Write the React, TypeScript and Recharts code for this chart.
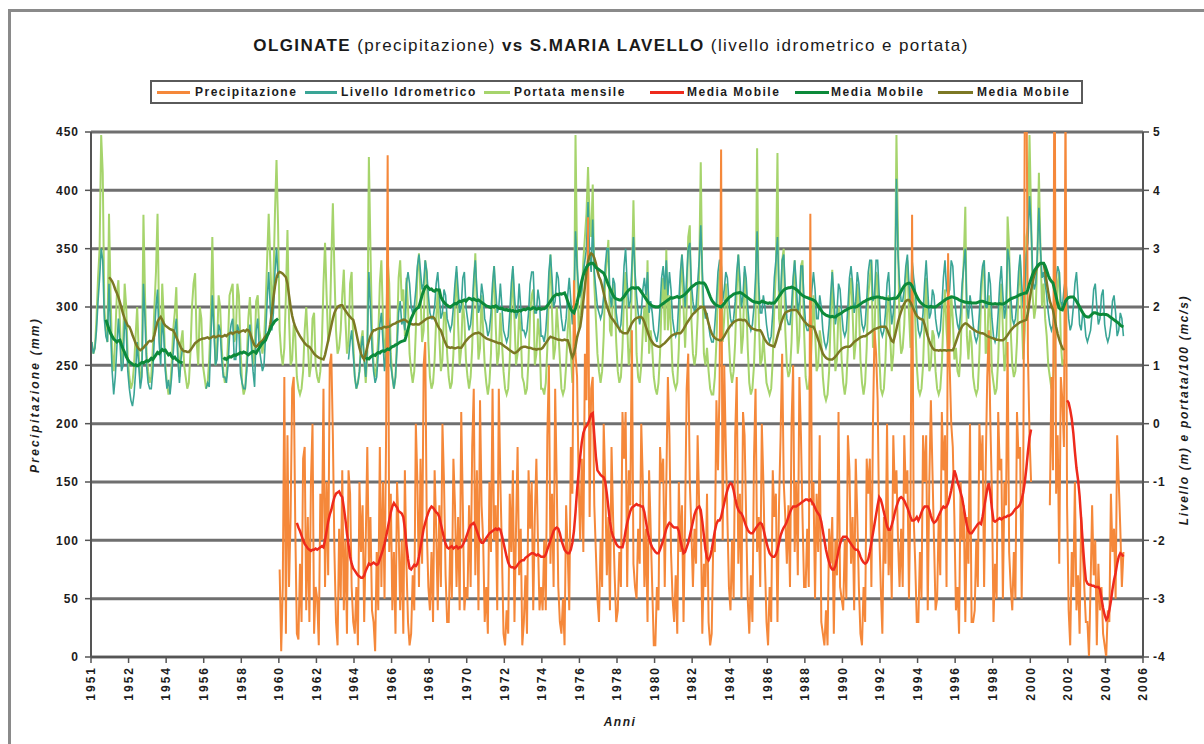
import React from 'react';
import { ComposedChart, Line, XAxis, YAxis, CartesianGrid } from 'recharts';

const FONT = '"Liberation Sans", Arial, Helvetica, sans-serif';

// ---- categories / ticks ----
const MONTHS = 672;
const xTickLabels = ['1951','1952','1954','1956','1958','1960','1962','1964','1966','1968','1970','1972','1974','1976','1978','1980','1982','1984','1986','1988','1990','1992','1994','1996','1998','2000','2002','2004','2006'];
const leftTicks = [0, 50, 100, 150, 200, 250, 300, 350, 400, 450];
const rightTicks = [-4, -3, -2, -1, 0, 1, 2, 3, 4, 5];

// ---- Precipitazione (mm), monthly ----
const precipStart1 = 120;
const precipitazione1 = [
  75,5,60,240,20,190,60,120,230,240,110,20,
  15,80,30,170,180,40,120,30,150,200,20,60,
  50,10,140,100,230,60,150,70,250,260,190,90,
  30,10,110,50,160,40,100,20,160,140,60,30,
  20,60,10,150,90,130,30,100,180,80,120,40,
  30,5,90,40,180,60,150,50,190,430,90,140,
  40,90,20,150,110,40,100,20,160,80,30,10,
  20,70,40,200,150,60,170,80,250,270,110,60,
  40,90,30,160,110,40,130,60,200,150,70,30,
  30,100,50,170,130,60,120,40,210,130,40,60,
  50,130,60,180,230,70,160,40,220,130,100,30,
  60,20,150,90,230,100,130,40,230,150,90,20,
  10,40,20,140,90,160,30,110,180,70,110,10,
  30,70,20,160,110,150,40,120,170,100,40,60,
  40,100,40,190,250,80,140,60,230,150,60,30,
  20,50,10,130,90,40,180,140,323,260,240,150,
  100,170,90,260,220,377,120,230,240,130,90,50,
  30,100,60,200,150,70,120,40,180,120,70,30,
  40,90,60,210,170,210,60,160,130,280,80,60,
  50,110,80,200,150,60,110,30,160,110,60,10,
  10,60,40,180,150,170,60,150,240,190,90,50,
  30,70,20,150,90,130,30,120,230,260,150,110,
  60,110,80,190,130,120,20,80,60,140,30,10,
  20,100,90,220,160,230,435,100,250,180,120,60,
  40,100,50,190,240,80,140,50,210,190,120,50,
  20,70,30,170,230,90,120,60,200,150,80,30,
  10,60,30,160,120,140,30,130,190,260,150,120,
  80,130,60,200,250,90,150,70,240,190,120,60,
  60,110,60,380,130,150,50,140,90,190,30,20,
  10,40,10,110,80,120,20,100,70,210,60,50,
  40,100,50,190,160,80,120,40,170,120,60,20,
  10,60,30,170,140,170,60,200,280,260,220,110,
  60,20,120,80,200,70,110,50,190,140,160,100,
  60,110,60,190,140,160,50,140,379,120,80,30,
  30,90,50,190,150,190,40,150,220,160,100,40,
  50,120,70,210,160,190,60,346,250,200,180,120,
  40,60,20,150,100,130,30,120,80,200,30,30,
  40,100,60,200,160,190,60,160,240,280,200,140,
  30,80,50,210,160,170,50,150,130,270,90,60,
  40,90,50,210,170,180,50,150,470,520,260,190,
  150,
];
const precipStart2 = 612;
const precipitazione2 = [
  130,240,160,560,140,190,80,240,220,180,480,130,
  40,10,90,60,150,40,70,20,120,90,60,30,
  30,0,60,130,70,100,10,80,40,60,20,10,
  0,40,30,140,90,110,50,190,150,110,60,90,
];

// ---- Livello idrometrico (m) ----
const livelloStart1 = 0;
const livello1 = [
  1.4,1.2,1.3,1.6,2.1,2.5,3.0,2.8,1.8,1.5,1.4,2.4,
  1.6,0.9,0.5,0.8,1.3,1.8,1.4,0.9,1.0,1.8,1.6,0.9,
  0.6,0.4,0.3,0.5,0.9,1.4,1.0,0.6,0.8,2.4,1.8,1.0,
  0.7,0.6,0.6,0.9,1.5,2.0,2.3,1.4,1.0,1.8,1.5,0.9,
  0.6,0.75,0.5,0.8,1.2,1.6,1.8,1.1,0.7,1.1,1.3,
];
const livelloStart2 = 73;
const livello2 = [
  0.6,0.7,0.63,1.4,2.2,1.6,1.0,1.1,1.7,1.6,1.1,
  0.8,0.8,0.7,1.0,1.5,1.7,1.8,1.1,1.1,1.7,1.6,0.86,
  0.7,0.6,0.6,0.9,1.4,1.7,1.3,0.9,0.63,1.6,1.8,1.3,
  1.1,0.9,1.0,1.5,2.1,2.6,2.0,1.6,1.9,2.6,3.0,2.5,
];
const livelloStart3 = 164;
const livello3 = [
  1.1,1.4,1.6,1.2,
  0.8,0.6,0.7,0.9,1.3,1.5,1.1,0.8,1.3,2.6,2.0,1.3,
  0.9,0.7,0.8,1.2,1.7,1.9,1.4,0.9,1.2,1.9,1.7,1.0,
  0.8,0.6,0.8,1.3,1.9,2.1,1.7,1.8,1.6,2.4,2.6,2.4,
  2.0,1.9,2.0,2.3,2.7,2.9,2.6,2.3,2.4,2.8,2.6,2.2,
  1.9,1.8,1.8,2.0,2.4,2.6,2.2,1.8,1.9,2.3,2.2,1.8,
  1.7,1.6,1.7,2.0,2.4,2.7,2.3,1.9,2.0,2.5,2.6,2.0,
  1.8,1.6,1.7,2.0,2.5,2.8,2.3,1.9,2.0,2.4,2.2,1.8,
  1.7,1.5,1.6,1.9,2.4,2.7,2.3,1.9,2.0,2.4,2.0,1.6,
  1.5,1.4,1.5,1.9,2.4,2.7,2.2,1.8,1.9,2.4,2.0,1.6,
  1.6,1.5,1.6,1.9,2.4,2.6,2.6,1.9,1.9,2.3,2.1,1.5,
  1.5,1.4,1.6,2.0,2.6,2.9,2.5,2.0,2.1,2.6,2.5,2.1,
  1.8,1.6,1.6,1.8,2.2,2.5,2.1,1.7,2.0,3.3,2.7,2.3,
  2.2,2.3,2.6,2.8,3.0,3.8,2.9,2.6,3.5,2.6,2.3,2.0,
  1.9,1.8,1.9,2.2,2.7,3.0,3.0,2.2,2.0,2.5,2.4,1.9,
  1.7,1.6,1.7,2.1,2.7,3.0,2.4,2.0,2.1,2.7,3.2,2.6,
  2.2,1.9,1.7,1.9,2.3,2.5,2.2,2.6,1.9,2.1,1.9,1.6,
  1.5,1.4,1.6,2.0,2.5,2.7,2.3,2.8,2.2,2.6,2.3,1.8,
  1.6,1.5,1.6,2.1,2.6,2.9,2.5,2.0,2.5,3.0,3.1,2.4,
  2.1,1.9,2.0,2.4,2.8,3.4,2.6,2.0,1.8,1.9,1.7,1.5,
  1.4,1.4,1.7,2.1,2.6,2.8,2.8,2.1,2.3,2.6,2.5,2.1,
  1.8,1.7,1.8,2.1,2.6,2.9,2.5,2.0,2.2,2.7,2.5,2.0,
  1.7,1.6,1.7,2.0,2.5,3.3,2.4,1.9,1.9,2.2,2.0,1.7,
  1.5,1.4,1.5,1.9,2.5,2.8,3.2,2.3,2.2,2.8,2.9,2.3,
  1.8,1.7,1.7,2.0,2.5,2.8,2.4,1.9,2.1,2.7,2.7,2.1,
  1.7,1.6,1.6,1.9,2.3,2.6,2.3,1.8,1.8,2.2,2.0,1.6,
  1.4,1.3,1.4,1.7,2.2,2.6,2.2,1.7,1.9,2.4,2.3,1.9,
  1.6,1.5,1.6,2.0,2.5,2.7,2.4,1.9,2.1,2.6,2.4,2.0,
  1.7,1.6,1.7,2.1,2.6,2.8,2.8,2.1,2.2,2.8,2.8,2.2,
  1.6,1.5,1.6,1.9,2.4,2.6,2.1,1.7,1.9,2.3,4.2,2.9,
  2.4,2.1,2.1,2.3,2.7,2.9,2.4,2.0,2.8,2.5,2.3,1.9,
  1.6,1.5,1.6,1.9,2.4,2.8,2.3,1.8,1.9,2.3,2.2,1.8,
  1.6,1.5,1.6,2.0,2.5,2.8,2.3,2.2,2.3,2.8,2.7,2.2,
  1.9,1.7,1.6,1.9,2.4,2.7,3.0,2.0,1.8,2.2,2.0,1.7,
  1.5,1.4,1.5,1.9,2.4,2.7,2.8,2.0,2.0,2.6,2.4,1.8,
  1.5,1.4,1.5,1.9,2.4,2.7,2.2,1.8,2.0,3.0,2.8,2.2,
  1.8,1.7,1.8,2.1,2.6,2.9,2.4,2.0,2.3,2.9,3.1,3.9,
  3.4,2.6,2.3,2.4,2.9,3.7,3.0,2.5,2.6,2.4,2.2,1.9,
  1.7,1.6,1.7,2.0,2.5,2.7,2.6,2.1,2.0,2.3,2.5,2.2,
  1.8,1.6,1.7,2.0,2.4,2.6,2.2,1.7,1.6,1.9,1.8,1.5,
  1.4,1.5,1.6,1.9,2.3,2.4,2.0,1.7,1.8,2.2,2.3,1.7,
  1.5,1.4,1.5,1.7,2.1,2.2,1.9,1.5,1.6,1.9,1.8,1.5,
];

// ---- Portata mensile (m3/s / 100) ----
const portataStart = 0;
const portata = [
  1.4,1.2,1.3,1.8,2.5,3.0,4.95,4.3,2.0,1.6,1.4,3.6,
  2.2,1.2,0.9,1.5,2.2,2.46,1.7,1.0,1.4,2.4,2.0,1.1,
  0.8,0.6,0.7,1.0,1.5,2.0,1.2,0.7,0.9,3.58,2.2,1.2,
  0.9,0.7,0.8,1.3,2.0,2.6,3.6,1.8,1.2,2.4,1.8,1.0,
  0.7,0.5,0.6,1.0,1.6,1.9,2.34,1.2,0.8,1.4,1.6,1.0,
  0.8,0.6,0.7,1.2,2.0,2.4,2.58,1.4,1.0,2.0,1.8,1.0,
  0.8,0.6,0.7,1.1,1.8,3.2,1.9,1.0,1.3,2.2,2.0,1.3,
  0.9,0.7,0.8,1.4,2.2,2.3,2.4,1.4,1.5,2.4,2.2,1.3,
  0.7,0.5,0.6,1.1,1.8,2.17,1.6,1.0,1.2,2.1,2.2,1.6,
  1.4,1.2,1.4,2.0,2.8,3.6,2.8,2.0,2.4,3.6,4.52,3.4,
  1.6,1.2,1.0,1.3,2.2,3.32,1.8,1.0,1.1,1.7,1.5,0.8,
  0.6,0.5,0.6,0.9,1.6,2.0,1.4,0.8,1.0,1.8,1.9,1.0,
  0.8,0.7,0.9,1.4,2.4,3.1,2.2,1.4,1.6,2.8,3.78,2.6,
  1.6,1.2,1.3,1.6,2.2,2.64,1.8,1.2,1.4,2.4,2.6,1.4,
  0.8,0.6,0.7,0.9,1.4,1.6,1.1,0.7,1.2,4.57,3.0,1.6,
  1.0,0.8,1.0,1.5,2.4,2.8,1.8,1.1,1.5,2.8,2.4,1.2,
  0.8,0.6,0.8,1.5,2.5,2.8,2.1,2.3,1.5,2.5,2.0,1.2,
  0.9,0.7,0.9,1.6,2.6,2.92,2.2,1.4,1.6,2.8,2.6,1.4,
  0.8,0.6,0.7,1.1,1.8,2.3,1.5,0.9,1.1,1.9,1.9,1.2,
  0.8,0.6,0.7,1.2,2.1,2.6,1.7,1.0,1.3,2.1,1.8,1.1,
  0.8,0.6,0.8,1.3,2.3,2.92,1.9,1.1,1.3,2.2,1.6,1.0,
  0.7,0.5,0.7,1.2,2.2,2.7,1.7,1.0,1.2,1.9,1.4,0.9,
  0.6,0.5,0.6,1.1,2.0,2.65,1.8,1.0,1.2,1.9,1.6,0.8,
  0.7,0.5,0.6,1.1,1.9,2.2,2.3,1.0,1.2,1.8,1.5,0.6,
  0.6,0.5,0.7,1.3,2.3,2.9,1.9,1.1,1.3,2.0,1.6,1.1,
  0.6,0.5,0.6,1.0,1.6,2.0,1.2,0.7,1.4,4.95,2.8,1.6,
  1.8,2.2,2.8,3.2,3.6,4.4,3.5,3.2,4.1,2.4,1.8,1.2,
  0.9,0.7,0.9,1.5,2.5,2.8,3.15,1.6,1.5,2.4,2.2,1.4,
  0.9,0.7,0.8,1.3,2.2,2.6,1.7,1.0,1.3,2.4,3.83,2.5,
  1.2,0.8,0.7,1.0,1.6,2.0,1.4,2.8,1.2,1.6,1.3,0.8,
  0.6,0.5,0.7,1.2,2.1,2.5,1.6,2.98,1.6,2.2,1.6,0.9,
  0.7,0.6,0.7,1.3,2.3,2.9,2.0,1.3,2.0,3.2,3.4,1.8,
  1.2,1.0,1.2,1.8,2.6,4.48,2.4,1.2,1.0,1.3,0.9,0.6,
  0.5,0.5,0.8,1.4,2.3,2.6,2.7,1.4,1.8,2.4,2.0,1.4,
  0.9,0.7,0.9,1.4,2.3,2.9,2.1,1.2,1.5,2.6,2.2,1.3,
  0.7,0.5,0.6,1.0,1.8,4.72,1.9,1.0,1.1,1.5,1.1,0.7,
  0.6,0.5,0.6,1.1,2.0,2.6,4.64,1.8,1.6,2.8,3.0,1.6,
  1.0,0.8,0.9,1.4,2.3,2.8,2.0,1.2,1.5,2.7,2.8,1.6,
  0.8,0.6,0.6,0.9,1.5,2.2,1.6,0.9,1.0,1.6,1.4,0.8,
  0.5,0.4,0.5,0.9,1.8,2.64,1.7,0.9,1.1,2.0,1.8,1.1,
  0.7,0.5,0.7,1.3,2.2,2.5,1.9,1.1,1.4,2.4,2.0,1.1,
  0.7,0.5,0.7,1.3,2.2,2.5,2.8,1.3,1.5,2.6,2.5,1.2,
  0.6,0.5,0.6,1.1,1.9,2.2,1.5,0.9,1.2,2.0,4.95,3.2,
  1.6,1.2,1.3,1.7,2.5,2.8,1.9,1.3,2.7,2.2,1.8,1.0,
  0.6,0.5,0.6,1.0,1.8,2.5,1.6,0.9,1.0,1.6,1.5,0.9,
  0.6,0.5,0.6,1.0,1.8,2.3,1.6,1.2,1.4,2.2,1.8,1.1,
  1.3,0.9,0.8,1.2,2.2,2.8,3.72,1.5,1.1,1.6,1.4,0.8,
  0.6,0.5,0.6,1.2,2.1,2.6,2.8,1.2,1.3,2.2,1.8,0.9,
  0.7,0.5,0.6,1.1,1.9,2.4,1.6,0.9,1.2,3.55,3.0,1.6,
  1.0,0.8,0.9,1.4,2.3,2.8,1.9,1.1,1.6,3.2,3.4,4.95,
  3.6,2.2,1.8,2.0,2.8,4.3,3.0,2.0,2.4,1.8,1.5,1.0,
  0.8,0.6,0.7,1.2,1.9,2.4,2.6,1.4,1.0,1.1,
];

// ---- Media Mobile precipitazione (mm) ----
const mediaPrecipStart1 = 131;
const mediaPrecip1 = [
  115,
  111,108,104,100,97,95,93,92,91,92,92,93,
  92,93,94,95,94,100,108,116,122,126,132,137,
  140,141,142,139,137,128,118,106,96,86,80,76,
  74,72,70,69,68,68,70,74,77,80,79,80,
  81,80,79,80,84,88,92,97,103,110,117,124,
  129,132,130,128,125,124,123,120,110,96,84,76,
  75,77,79,78,80,86,94,102,110,115,120,124,
  127,129,128,126,124,123,120,114,108,102,97,94,
  93,94,95,93,94,95,93,94,94,96,99,102,
  106,110,113,114,115,112,108,104,100,98,98,100,
  102,104,106,107,108,109,110,109,110,109,104,98,
  92,86,81,78,77,77,76,77,79,81,82,83,
  83,85,86,87,88,89,89,88,87,88,87,86,
  86,86,88,92,96,100,104,108,110,111,110,106,
  100,96,92,90,89,89,92,98,108,124,143,158,
  172,184,192,196,198,200,204,208,209,190,172,160,
  158,156,155,154,150,140,128,116,108,103,100,97,
  95,94,94,94,100,108,115,120,125,128,129,130,
  131,130,130,129,129,124,116,108,102,97,94,92,
  90,89,89,92,96,100,105,110,113,115,114,112,
  111,111,111,108,100,94,89,90,94,98,104,110,
  116,122,126,128,129,126,116,104,92,85,83,86,
  92,100,108,114,117,117,120,126,132,138,143,147,
  149,148,143,136,130,126,124,123,120,116,112,109,
  107,106,106,108,110,112,114,115,114,110,104,98,
  93,89,87,86,86,88,92,98,104,108,111,113,
  116,120,124,127,129,129,129,130,131,132,133,134,
  135,135,134,135,133,131,128,125,123,121,116,108,
  100,92,86,81,77,75,75,78,84,91,97,101,
  103,103,103,101,99,97,95,93,92,92,90,86,
  83,81,80,81,84,90,98,106,114,122,130,137,
  135,130,124,118,112,109,109,113,118,124,129,133,
  136,137,136,134,131,128,124,120,117,117,118,120,
  117,120,124,127,129,129,129,126,121,117,115,116,
  118,121,124,127,129,128,129,132,137,143,150,160,
  156,150,146,141,136,128,120,113,108,106,106,108,
  110,112,114,115,114,120,128,136,144,149,140,127,
  117,116,117,118,119,118,119,120,120,121,121,122,
  123,125,127,128,129,131,135,141,150,162,176,188,
  195,
];
const mediaPrecipStart2 = 623;
const mediaPrecip2 = [
  220,218,212,204,192,176,162,152,138,118,98,80,66,
  63,62,62,61,61,60,60,60,58,50,42,36,
  32,34,40,48,58,66,72,80,86,89,88,86,
];

// ---- Media Mobile livello (m) ----
const mediaLivelloStart1 = 9;
const mediaLivello1 = [
  1.78,1.70,1.62,
  1.55,1.50,1.45,1.43,1.40,1.42,1.43,1.35,1.28,1.22,1.15,1.10,
  1.06,1.04,1.02,1.00,1.01,0.99,1.00,1.03,1.05,1.04,1.06,1.08,
  1.07,1.09,1.12,1.10,1.14,1.18,1.22,1.20,1.24,1.27,1.25,1.26,
  1.22,1.18,1.20,1.15,1.12,1.14,1.10,1.08,1.06,1.05,1.04,
];
const mediaLivelloStart2 = 84;
const mediaLivello2 = [
  1.10,1.12,1.10,1.13,1.15,1.14,1.16,1.18,1.17,1.19,1.20,1.22,
  1.21,1.23,1.22,1.20,1.18,1.20,1.22,1.24,1.23,1.21,1.26,1.30,
  1.34,1.38,1.40,1.43,1.50,1.56,1.62,1.68,1.72,1.76,1.78,1.80,
];
const mediaLivelloStart3 = 175;
const mediaLivello3 = [
  1.10,1.12,1.11,1.14,1.16,
  1.18,1.17,1.20,1.22,1.21,1.24,1.25,1.24,1.26,1.28,1.27,1.30,
  1.32,1.33,1.35,1.36,1.38,1.40,1.41,1.42,1.43,1.52,1.62,1.72,
  1.80,1.86,1.92,1.96,1.98,2.00,2.10,2.20,2.28,2.34,2.36,2.33,
  2.30,2.31,2.28,2.27,2.30,2.29,2.29,2.17,2.12,2.08,2.05,2.03,
  2.01,2.00,2.02,2.04,2.06,2.05,2.08,2.10,2.09,2.11,2.12,2.10,
  2.13,2.15,2.14,2.12,2.14,2.12,2.11,2.12,2.10,2.08,2.06,2.04,
  2.02,2.01,2.00,1.99,2.01,2.00,2.02,2.00,1.98,1.97,1.98,1.96,
  1.95,1.96,1.94,1.95,1.93,1.94,1.92,1.93,1.92,1.94,1.93,1.95,
  1.96,1.95,1.97,1.98,1.96,1.97,1.99,1.98,1.96,1.97,1.98,1.96,
  1.97,1.97,1.99,2.02,2.06,2.10,2.14,2.18,2.20,2.22,2.21,2.23,
  2.22,2.23,2.24,2.18,2.10,2.02,1.96,1.92,1.90,1.98,2.08,2.20,
  2.32,2.45,2.55,2.62,2.68,2.72,2.74,2.75,2.75,2.72,2.68,2.66,
  2.64,2.62,2.60,2.58,2.52,2.45,2.38,2.32,2.26,2.20,2.16,2.14,
  2.13,2.12,2.12,2.15,2.18,2.22,2.26,2.29,2.31,2.33,2.33,2.32,
  2.33,2.33,2.30,2.26,2.22,2.18,2.14,2.10,2.06,2.04,2.02,2.01,
  2.00,2.00,2.00,2.02,2.04,2.06,2.08,2.10,2.12,2.14,2.16,2.15,
  2.16,2.17,2.18,2.16,2.17,2.18,2.20,2.22,2.25,2.28,2.31,2.34,
  2.36,2.38,2.40,2.41,2.42,2.41,2.41,2.41,2.38,2.32,2.25,2.18,
  2.12,2.08,2.05,2.03,2.02,2.01,2.00,2.03,2.06,2.10,2.13,2.16,
  2.18,2.20,2.22,2.23,2.24,2.24,2.25,2.24,2.22,2.20,2.18,2.16,
  2.14,2.12,2.10,2.09,2.08,2.08,2.07,2.08,2.10,2.09,2.08,2.07,
  2.06,2.07,2.06,2.07,2.07,2.10,2.14,2.18,2.22,2.26,2.29,2.31,
  2.32,2.33,2.33,2.34,2.33,2.32,2.30,2.28,2.25,2.22,2.20,2.18,
  2.17,2.16,2.15,2.14,2.13,2.12,2.10,2.06,2.02,1.98,1.94,1.90,
  1.88,1.86,1.85,1.84,1.83,1.84,1.83,1.83,1.85,1.87,1.88,1.90,
  1.92,1.94,1.95,1.97,1.98,1.99,2.00,2.00,2.00,2.01,2.03,2.05,
  2.07,2.09,2.10,2.12,2.13,2.14,2.15,2.16,2.16,2.17,2.17,2.17,
  2.16,2.16,2.15,2.14,2.14,2.13,2.14,2.14,2.15,2.15,2.15,2.18,
  2.22,2.27,2.32,2.36,2.39,2.40,2.41,2.40,2.36,2.30,2.24,2.18,
  2.13,2.09,2.06,2.04,2.02,2.01,2.00,2.00,2.01,2.00,2.00,2.00,
  2.02,2.04,2.06,2.08,2.10,2.12,2.14,2.15,2.16,2.17,2.17,2.16,
  2.15,2.14,2.12,2.11,2.10,2.09,2.08,2.08,2.07,2.08,2.07,2.07,
  2.07,2.07,2.08,2.09,2.10,2.10,2.09,2.08,2.07,2.06,2.06,2.05,
  2.05,2.06,2.05,2.05,2.06,2.05,2.05,2.06,2.08,2.10,2.12,2.14,
  2.15,2.16,2.17,2.18,2.20,2.21,2.22,2.23,2.24,2.24,2.30,2.40,
  2.48,2.56,2.62,2.66,2.70,2.73,2.75,2.75,2.75,2.70,2.62,2.54,
  2.48,2.44,2.41,2.30,2.18,2.06,1.98,1.96,1.95,2.02,2.10,2.14,
  2.16,2.17,2.17,2.17,2.14,2.10,2.05,2.00,1.95,1.90,1.86,1.84,
  1.83,1.83,1.85,1.88,1.90,1.90,1.89,1.88,1.87,1.87,1.88,1.87,
  1.87,1.86,1.84,1.82,1.80,1.78,1.76,1.74,1.72,1.69,1.67,1.66,
];

// ---- Media Mobile portata (m3/s / 100) ----
const mediaPortataStart = 11;
const mediaPortata = [
  2.51,
  2.48,2.44,2.38,2.30,2.24,2.17,2.08,1.98,1.88,1.80,1.74,1.68,
  1.66,1.60,1.52,1.45,1.38,1.32,1.28,1.26,1.28,1.30,1.34,1.36,
  1.40,1.42,1.41,1.43,1.52,1.64,1.75,1.80,1.83,1.78,1.72,1.68,
  1.66,1.64,1.62,1.61,1.60,1.55,1.48,1.42,1.36,1.30,1.26,1.24,
  1.24,1.23,1.23,1.26,1.30,1.34,1.38,1.40,1.42,1.44,1.45,1.46,
  1.46,1.47,1.48,1.46,1.47,1.49,1.50,1.48,1.49,1.51,1.50,1.49,
  1.50,1.52,1.50,1.53,1.55,1.56,1.54,1.56,1.57,1.58,1.56,1.58,
  1.59,1.60,1.58,1.61,1.60,1.56,1.48,1.40,1.34,1.32,1.34,1.38,
  1.40,1.42,1.46,1.50,1.53,1.55,1.70,1.90,2.15,2.35,2.50,2.58,
  2.60,2.59,2.57,2.54,2.51,2.40,2.20,2.00,1.85,1.74,1.66,1.60,
  1.55,1.50,1.46,1.42,1.38,1.35,1.33,1.32,1.28,1.24,1.20,1.17,
  1.15,1.13,1.12,1.11,1.10,1.18,1.30,1.42,1.55,1.68,1.80,1.90,
  1.96,2.00,2.02,2.03,2.03,1.98,1.94,1.90,1.86,1.83,1.80,1.78,
  1.68,1.55,1.42,1.30,1.20,1.14,1.10,1.20,1.32,1.42,1.50,1.56,
  1.60,1.60,1.62,1.63,1.64,1.63,1.65,1.66,1.65,1.66,1.66,1.68,
  1.70,1.71,1.72,1.74,1.75,1.76,1.77,1.78,1.78,1.76,1.74,1.72,
  1.71,1.70,1.70,1.71,1.70,1.70,1.72,1.74,1.76,1.78,1.80,1.81,
  1.82,1.83,1.83,1.80,1.74,1.68,1.63,1.60,1.52,1.44,1.38,1.32,
  1.31,1.30,1.31,1.30,1.29,1.30,1.31,1.30,1.30,1.34,1.38,1.42,
  1.45,1.48,1.50,1.52,1.54,1.55,1.55,1.56,1.55,1.53,1.50,1.48,
  1.46,1.45,1.44,1.43,1.42,1.41,1.40,1.39,1.38,1.38,1.36,1.34,
  1.32,1.30,1.28,1.26,1.24,1.22,1.21,1.22,1.24,1.27,1.30,1.31,
  1.32,1.32,1.31,1.30,1.30,1.29,1.28,1.28,1.27,1.28,1.28,1.28,
  1.30,1.34,1.38,1.42,1.46,1.49,1.48,1.47,1.46,1.45,1.44,1.44,
  1.43,1.43,1.44,1.43,1.43,1.35,1.22,1.14,1.20,1.32,1.48,1.58,
  1.66,1.85,2.10,2.35,2.60,2.78,2.88,2.92,2.90,2.84,2.75,2.62,
  2.52,2.46,2.36,2.24,2.12,2.02,1.94,1.86,1.81,1.78,1.74,1.70,
  1.66,1.62,1.58,1.56,1.55,1.55,1.55,1.60,1.66,1.72,1.76,1.79,
  1.81,1.82,1.83,1.83,1.80,1.74,1.66,1.58,1.50,1.44,1.40,1.36,
  1.34,1.33,1.32,1.32,1.34,1.36,1.38,1.41,1.44,1.47,1.50,1.52,
  1.53,1.54,1.55,1.55,1.55,1.58,1.62,1.67,1.72,1.76,1.80,1.84,
  1.88,1.90,1.93,1.96,1.98,2.00,2.00,2.00,1.92,1.82,1.72,1.62,
  1.55,1.50,1.47,1.45,1.44,1.43,1.43,1.46,1.50,1.55,1.60,1.64,
  1.68,1.71,1.74,1.76,1.77,1.78,1.78,1.78,1.77,1.78,1.76,1.72,
  1.68,1.65,1.63,1.62,1.61,1.60,1.60,1.60,1.56,1.50,1.44,1.40,
  1.37,1.35,1.34,1.33,1.32,1.40,1.50,1.60,1.70,1.78,1.85,1.90,
  1.92,1.93,1.94,1.95,1.95,1.95,1.95,1.92,1.88,1.84,1.80,1.76,
  1.73,1.70,1.68,1.67,1.66,1.66,1.60,1.52,1.44,1.36,1.28,1.20,
  1.16,1.13,1.11,1.10,1.10,1.10,1.12,1.15,1.18,1.22,1.25,1.28,
  1.30,1.31,1.32,1.32,1.32,1.34,1.37,1.40,1.42,1.44,1.46,1.48,
  1.49,1.50,1.50,1.52,1.54,1.56,1.58,1.60,1.62,1.63,1.64,1.65,
  1.66,1.66,1.66,1.66,1.62,1.55,1.48,1.42,1.40,1.50,1.62,1.74,
  1.84,1.92,2.00,2.06,2.10,2.12,2.12,2.08,2.02,1.96,1.90,1.85,
  1.82,1.80,1.79,1.78,1.70,1.60,1.50,1.42,1.35,1.30,1.27,1.26,
  1.26,1.25,1.26,1.25,1.26,1.26,1.25,1.26,1.26,1.26,1.26,1.32,
  1.40,1.48,1.56,1.62,1.67,1.70,1.72,1.71,1.69,1.66,1.64,1.62,
  1.60,1.58,1.57,1.56,1.55,1.55,1.54,1.52,1.50,1.49,1.48,1.47,
  1.46,1.45,1.44,1.44,1.43,1.43,1.43,1.45,1.48,1.52,1.56,1.60,
  1.63,1.66,1.68,1.70,1.72,1.74,1.75,1.76,1.77,1.78,1.90,2.10,
  2.28,2.42,2.54,2.62,2.68,2.72,2.74,2.75,2.75,2.60,2.42,2.25,
  2.10,2.02,1.95,1.80,1.66,1.54,1.44,1.36,1.30,1.26,
];

// ---- build the table the library needs ----
type Row = { [k: string]: number | null };
const KEYS = ['prec', 'liv', 'port', 'mPrec', 'mLiv', 'mPort'];
const rows: Row[] = [];
for (let i = 0; i < MONTHS; i++) {
  const r: Row = { x: i + 0.5 };
  KEYS.forEach((k) => { r[k] = null; });
  rows.push(r);
}
function place(key: string, start: number, values: number[]) {
  values.forEach((v, j) => {
    const idx = start + j;
    if (idx >= 0 && idx < MONTHS) rows[idx][key] = v;
  });
}
place('prec', precipStart1, precipitazione1);
place('prec', precipStart2, precipitazione2);
place('liv', livelloStart1, livello1);
place('liv', livelloStart2, livello2);
place('liv', livelloStart3, livello3);
place('port', portataStart, portata);
place('mPrec', mediaPrecipStart1, mediaPrecip1);
place('mPrec', mediaPrecipStart2, mediaPrecip2);
place('mLiv', mediaLivelloStart1, mediaLivello1);
place('mLiv', mediaLivelloStart2, mediaLivello2);
place('mLiv', mediaLivelloStart3, mediaLivello3);
place('mPort', mediaPortataStart, mediaPortata);

const COLORS = {
  prec: '#F5883A',
  liv: '#3AA596',
  port: '#A6D46C',
  mPrec: '#EE2A1C',
  mLiv: '#0C8A3A',
  mPort: '#7C7824',
};

const legendItems = [
  { label: 'Precipitazione', color: COLORS.prec, line: [157, 190], text: 195 },
  { label: 'Livello Idrometrico', color: COLORS.liv, line: [305, 337], text: 341 },
  { label: 'Portata mensile', color: COLORS.port, line: [484, 510], text: 514 },
  { label: 'Media Mobile', color: COLORS.mPrec, line: [650, 684], text: 687 },
  { label: 'Media Mobile', color: COLORS.mLiv, line: [795, 829], text: 831 },
  { label: 'Media Mobile', color: COLORS.mPort, line: [938, 973], text: 977 },
];

const TEXT_COLOR = '#1c1c1c';

const XTick = (props: any) => {
  const { x, y, payload } = props;
  const label = xTickLabels[Math.round(payload.value / 24)];
  return (
    <text
      x={x}
      y={y}
      transform={`rotate(-90 ${x} ${y})`}
      textAnchor="end"
      dy="0.36em"
      fontSize={12}
      fontWeight={700}
      fill={TEXT_COLOR}
      fontFamily={FONT}
      style={{ letterSpacing: '2px' }}
    >
      {label}
    </text>
  );
};

const LeftTick = (props: any) => {
  const { x, y, payload } = props;
  return (
    <text x={x} y={y} dy="0.36em" textAnchor="end" fontSize={12} fontWeight={700}
      fill={TEXT_COLOR} fontFamily={FONT} style={{ letterSpacing: '1px' }}>
      {payload.value}
    </text>
  );
};

const RightTick = (props: any) => {
  const { x, y, payload } = props;
  return (
    <text x={x} y={y} dy="0.36em" textAnchor="start" fontSize={12} fontWeight={700}
      fill={TEXT_COLOR} fontFamily={FONT} style={{ letterSpacing: '1px' }}>
      {payload.value}
    </text>
  );
};

export default function App() {
  const xTicks = xTickLabels.map((_, k) => k * 24);
  return (
    <div
      style={{
        position: 'fixed', left: 0, top: 0, width: 1204, height: 744,
        overflow: 'hidden', background: '#ffffff', fontFamily: FONT,
      }}
    >
      {/* outer frame */}
      <div style={{ position: 'absolute', left: 8, top: 9, width: 1400, height: 1000, border: '3px solid #8a8a8a', boxSizing: 'border-box' }} />

      {/* title */}
      <div style={{ position: 'absolute', left: 611, top: 35, transform: 'translateX(-50%)', whiteSpace: 'nowrap', fontSize: 17, color: '#1a1a1a', letterSpacing: '1.4px', lineHeight: '22px' }}>
        <b>OLGINATE</b> (precipitazione) <b>vs</b> <b>S.MARIA LAVELLO</b> (livello idrometrico e portata)
      </div>

      {/* legend */}
      <div style={{ position: 'absolute', left: 150, top: 80, width: 933, height: 24, border: '2px solid #5a5a5a', boxSizing: 'border-box', background: '#fff' }} />
      {legendItems.map((it, i) => (
        <React.Fragment key={i}>
          <div style={{ position: 'absolute', left: it.line[0], top: 91, width: it.line[1] - it.line[0], height: 3, background: it.color }} />
          <div style={{ position: 'absolute', left: it.text, top: 84, fontSize: 12, fontWeight: 700, letterSpacing: '1.5px', color: TEXT_COLOR, whiteSpace: 'nowrap', lineHeight: '16px' }}>{it.label}</div>
        </React.Fragment>
      ))}

      {/* axis titles */}
      <div style={{ position: 'absolute', left: 35, top: 395, transform: 'translate(-50%, -50%) rotate(-90deg)', whiteSpace: 'nowrap', fontSize: 12, fontWeight: 700, fontStyle: 'italic', letterSpacing: '2.2px', color: TEXT_COLOR }}>
        Precipitazione (mm)
      </div>
      <div style={{ position: 'absolute', left: 1184, top: 410, transform: 'translate(-50%, -50%) rotate(-90deg)', whiteSpace: 'nowrap', fontSize: 12, fontWeight: 700, fontStyle: 'italic', letterSpacing: '1.7px', color: TEXT_COLOR }}>
        Livello (m) e portata/100 (mc/s)
      </div>
      <div style={{ position: 'absolute', left: 620, top: 722, transform: 'translate(-50%, -50%)', whiteSpace: 'nowrap', fontSize: 12, fontWeight: 700, fontStyle: 'italic', letterSpacing: '1.5px', color: TEXT_COLOR }}>
        Anni
      </div>

      <div style={{ position: 'absolute', left: 0, top: 0 }}>
        <ComposedChart width={1204} height={744} data={rows} margin={{ top: 132, right: 0, bottom: 0, left: 0 }}>
          <CartesianGrid yAxisId="left" vertical={false} stroke="#6f6f6f" strokeWidth={3} />
          <XAxis
            dataKey="x"
            type="number"
            domain={[0, MONTHS]}
            ticks={xTicks}
            interval={0}
            height={87}
            tickSize={6}
            tickMargin={3}
            tick={<XTick />}
            axisLine={{ stroke: '#555', strokeWidth: 2 }}
            tickLine={{ stroke: '#555', strokeWidth: 1.5 }}
            allowDataOverflow
          />
          <YAxis
            yAxisId="left"
            orientation="left"
            width={91}
            domain={[0, 450]}
            ticks={leftTicks}
            interval={0}
            allowDataOverflow
            tickSize={6}
            tickMargin={6}
            tick={<LeftTick />}
            axisLine={{ stroke: '#555', strokeWidth: 2 }}
            tickLine={{ stroke: '#555', strokeWidth: 1.5 }}
          />
          <YAxis
            yAxisId="right"
            orientation="right"
            width={61}
            domain={[-4, 5]}
            ticks={rightTicks}
            interval={0}
            allowDataOverflow
            tickSize={6}
            tickMargin={4}
            tick={<RightTick />}
            axisLine={{ stroke: '#555', strokeWidth: 2 }}
            tickLine={{ stroke: '#555', strokeWidth: 1.5 }}
          />
          <Line yAxisId="right" dataKey="port" name="Portata mensile" stroke={COLORS.port} strokeWidth={2} dot={false} isAnimationActive={false} connectNulls={false} />
          <Line yAxisId="right" dataKey="liv" name="Livello Idrometrico" stroke={COLORS.liv} strokeWidth={1.6} dot={false} isAnimationActive={false} connectNulls={false} />
          <Line yAxisId="left" dataKey="prec" name="Precipitazione" stroke={COLORS.prec} strokeWidth={2} dot={false} isAnimationActive={false} connectNulls={false} />
          <Line yAxisId="right" dataKey="mPort" name="Media Mobile" stroke={COLORS.mPort} strokeWidth={2.5} dot={false} isAnimationActive={false} connectNulls={false} />
          <Line yAxisId="right" dataKey="mLiv" name="Media Mobile" stroke={COLORS.mLiv} strokeWidth={3} dot={false} isAnimationActive={false} connectNulls={false} />
          <Line yAxisId="left" dataKey="mPrec" name="Media Mobile" stroke={COLORS.mPrec} strokeWidth={2.5} dot={false} isAnimationActive={false} connectNulls={false} />
        </ComposedChart>
      </div>
    </div>
  );
}
